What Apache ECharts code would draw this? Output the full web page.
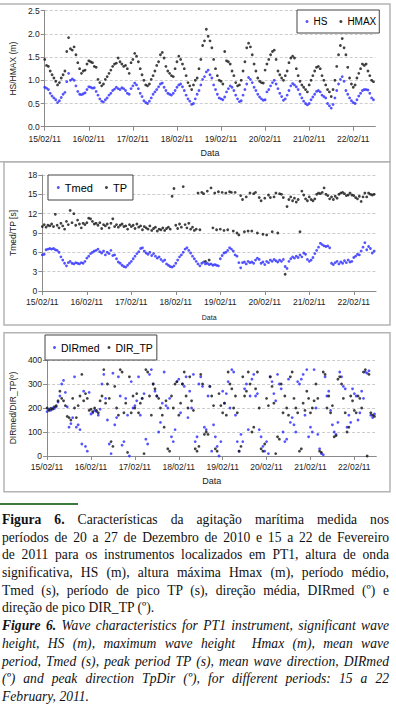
<!DOCTYPE html>
<html><head><meta charset="utf-8">
<script src="https://cdn.jsdelivr.net/npm/echarts@6/dist/echarts.min.js"></script>
<style>
html,body{margin:0;padding:0;background:#fff;}
#chart{position:absolute;left:0;top:0;width:396px;height:500px;}
#rule{position:absolute;left:0;top:503px;width:78px;height:1.5px;background:#3d7a3d;}
#cap{position:absolute;left:2px;top:511px;width:387px;font-family:"Liberation Serif","Times New Roman",serif;font-size:13.6px;color:#111;}
.l{height:17.7px;line-height:17.7px;white-space:nowrap;text-align:justify;text-align-last:justify;}
.e{text-align-last:left;}
.i{font-style:italic;}
</style></head><body>
<div id="chart"></div>
<div id="rule"></div>
<div id="cap">
<div class="l"><b>Figura 6.</b> Características da agitação marítima medida nos</div>
<div class="l">períodos de 20 a 27 de Dezembro de 2010 e 15 a 22 de Fevereiro</div>
<div class="l">de 2011 para os instrumentos localizados em PT1, altura de onda</div>
<div class="l">significativa, HS (m), altura máxima Hmax (m), período médio,</div>
<div class="l">Tmed (s), período de pico TP (s), direção média, DIRmed (º) e</div>
<div class="l e">direção de pico DIR_TP (º).</div>
<div class="l i"><b>Figure 6.</b> Wave characteristics for PT1 instrument, significant wave</div>
<div class="l i">height, HS (m), maximum wave height&nbsp; Hmax (m), mean wave</div>
<div class="l i">period, Tmed (s), peak period TP (s), mean wave direction, DIRmed</div>
<div class="l i">(º) and peak direction TpDir (º), for different periods: 15 a 22</div>
<div class="l i e">February, 2011.</div>
</div>
<script>
// ---- data (hourly samples starting 15/02/11 00:00) ----
const STEP_HOURS = 1;
const dateLabels = ['15/02/11','16/02/11','17/02/11','18/02/11','19/02/11','20/02/11','21/02/11','22/02/11'];
const dayTicks = [0,1,2,3,4,5,6,7];

const hsVals = [
0.85,0.83,0.80,0.72,0.66,0.62,0.58,0.52,0.56,0.63,0.70,0.74,0.97,1.15,1.00,1.03,1.00,0.88,0.76,0.70,0.69,0.71,0.73,0.80,
0.86,0.85,0.83,0.84,0.76,0.68,0.60,0.55,0.53,0.58,0.62,0.68,0.72,0.78,0.81,0.85,0.82,0.80,0.84,0.82,0.78,0.72,0.70,0.82,
0.88,0.94,0.90,0.82,0.72,0.65,0.56,0.52,0.50,0.55,0.62,0.70,0.75,0.80,0.86,0.92,0.94,0.85,0.78,0.72,0.70,0.68,0.72,0.78,
0.85,0.90,0.92,0.86,0.78,0.68,0.60,0.55,0.48,0.50,0.60,0.70,0.78,0.90,1.02,1.08,1.18,1.22,1.12,1.05,0.90,0.80,0.70,0.62,
0.60,0.58,0.64,0.75,0.82,0.88,0.85,0.78,0.68,0.60,0.54,0.56,0.68,0.80,0.92,1.06,1.02,0.95,0.85,0.78,0.70,0.64,0.60,0.57,
0.58,0.75,0.80,0.88,0.95,1.00,0.92,0.82,0.72,0.65,0.57,0.60,0.68,0.78,0.88,0.93,0.90,0.86,0.80,0.70,0.62,0.55,0.50,0.47,
0.50,0.58,0.64,0.70,0.76,0.78,0.75,0.68,0.65,0.62,0.50,0.45,0.40,0.48,0.62,0.78,0.92,1.02,1.08,0.98,0.78,0.70,0.62,0.56,
0.52,0.50,0.58,0.66,0.72,0.78,0.80,0.80,0.79,0.72,0.62,0.58];

const hmaxVals = [
1.45,1.32,1.30,1.20,1.12,1.05,0.98,0.90,0.95,1.05,1.12,1.20,1.62,1.92,1.68,1.65,1.72,1.55,1.38,1.25,1.15,1.20,1.22,1.35,
1.42,1.40,1.38,1.30,1.28,1.02,0.95,0.88,0.92,1.02,1.08,1.15,1.22,1.30,1.35,1.37,1.48,1.40,1.35,1.30,1.32,1.25,1.15,1.38,
1.45,1.58,1.52,1.40,1.25,1.12,1.00,0.90,0.88,0.92,1.02,1.10,1.20,1.32,1.40,1.55,1.60,1.48,1.30,1.20,1.15,1.10,1.08,1.25,
1.40,1.52,1.45,1.35,1.25,1.10,0.95,0.88,0.80,0.90,1.00,1.05,1.25,1.45,1.75,1.85,2.10,1.95,1.85,1.70,1.45,1.25,1.10,1.00,
0.98,0.92,1.62,1.42,1.40,1.35,1.20,1.10,0.95,0.88,0.90,1.00,1.20,1.40,1.70,1.80,1.72,1.55,1.35,1.20,1.05,0.98,0.95,0.94,
1.22,1.35,1.45,1.55,1.62,1.65,1.45,1.20,1.12,1.05,1.00,1.10,1.20,1.38,1.48,1.52,1.48,1.25,1.10,0.98,0.90,0.85,0.80,0.75,
0.90,1.00,1.10,1.20,1.28,1.30,1.25,1.10,1.00,0.90,0.80,0.75,0.65,0.80,1.00,1.30,1.55,1.75,1.90,1.70,1.55,1.28,1.05,0.92,
0.85,0.90,1.05,1.15,1.25,1.35,1.32,1.35,1.20,1.10,1.00,0.97];

const tmedVals = [
5.6,5.7,6.4,6.5,6.6,6.5,6.6,6.4,6.3,6.0,5.3,4.8,4.3,3.9,4.4,4.6,4.3,4.2,4.4,4.3,4.2,4.4,4.3,4.6,
5.1,5.4,5.8,6.0,6.2,6.3,6.5,6.1,5.9,6.2,5.6,6.0,5.8,6.3,5.5,5.6,5.0,4.5,4.3,4.0,3.8,3.7,4.0,4.3,
4.6,5.0,5.4,5.8,6.1,6.6,6.7,6.2,5.9,5.7,6.0,5.5,5.8,5.4,5.1,5.3,4.9,4.6,4.8,4.2,4.0,3.8,3.7,3.9,
4.3,4.8,5.3,5.6,6.0,6.5,6.7,6.3,5.9,5.4,5.0,4.6,4.2,3.9,4.3,4.5,4.2,4.3,4.1,4.2,4.0,4.1,4.0,3.9,
5.0,5.5,5.9,6.0,6.3,6.7,6.5,6.2,5.6,5.4,4.4,3.6,4.4,4.5,4.2,4.6,4.4,4.5,4.3,4.8,5.1,4.9,4.3,4.5,
4.1,4.6,4.4,4.8,4.6,4.9,4.7,4.5,4.8,4.6,4.9,3.8,3.5,4.6,5.0,5.3,5.1,5.4,5.2,5.6,5.3,5.9,5.7,4.9,
4.6,4.8,5.2,5.8,6.3,6.8,7.4,7.2,7.0,6.9,7.0,6.7,4.3,4.1,4.4,4.6,4.2,4.5,4.3,4.7,4.4,4.8,4.5,4.6,
5.2,5.4,5.7,5.6,6.2,6.8,7.5,6.4,6.9,6.6,5.9,6.2];

const tpVals = [
10.0,10.3,9.9,10.2,10.1,10.4,10.0,11.9,10.2,9.8,10.5,10.1,9.6,10.8,10.3,12.5,10.6,12.0,10.2,11.0,10.4,9.8,10.5,10.3,
10.6,11.3,11.2,10.8,10.4,10.5,10.2,10.6,9.7,10.3,10.1,10.4,9.8,10.5,11.2,10.0,10.3,9.9,10.2,10.4,10.0,10.1,9.6,10.3,
10.0,10.2,9.7,10.4,9.9,10.1,9.5,10.0,9.8,9.6,10.1,9.4,9.7,9.9,9.3,9.6,9.5,9.8,9.4,9.7,9.9,9.6,14.7,15.9,
10.2,9.7,10.4,9.9,16.2,10.3,9.8,10.5,9.6,9.9,9.4,9.6,15.2,9.5,15.3,15.1,4.6,15.5,4.8,16.0,9.8,15.2,9.5,15.4,
9.6,15.3,9.4,15.2,9.5,15.4,15.3,9.3,15.3,9.0,8.7,14.8,14.2,9.2,14.6,9.3,15.2,9.3,15.1,15.3,9.0,14.5,14.0,8.8,
14.4,8.7,14.9,14.5,9.2,14.6,15.2,9.0,15.1,15.0,14.5,2.6,13.1,14.2,14.6,14.0,14.4,13.8,14.2,9.2,15.5,14.9,14.3,14.0,
14.6,14.2,14.0,14.3,15.0,15.2,15.1,15.3,16.0,15.0,14.8,14.3,14.6,14.2,14.7,14.4,15.0,15.2,15.3,15.1,14.8,14.9,15.2,14.9,
14.8,14.5,14.3,14.7,13.9,14.6,15.2,14.6,15.2,15.0,14.9,15.0];

const dirMedVals = [
185,195,190,200,198,205,225,250,300,315,265,205,120,135,160,330,120,130,110,50,270,40,20,265,
175,180,190,185,170,195,300,340,240,150,50,10,345,130,160,330,250,45,60,240,170,0,310,200,
210,230,330,170,240,260,70,50,340,360,300,270,250,100,140,220,350,210,200,240,80,60,110,310,
320,180,300,290,330,160,270,200,340,60,80,300,330,290,120,110,250,290,20,130,80,40,0,60,
270,220,260,310,200,360,350,170,60,20,90,60,280,300,110,250,320,340,250,260,110,80,40,20,
60,10,330,310,260,230,340,300,280,100,60,70,320,140,160,130,100,310,300,320,340,170,360,80,
120,100,360,200,90,30,10,5,330,250,270,190,130,100,90,140,350,330,290,280,120,170,140,280,
260,250,150,180,270,240,350,345,355,170,160,175];

const dirTpVals = [
200,190,198,195,205,210,230,270,240,230,210,165,160,150,240,200,160,210,250,340,230,260,240,190,
195,185,200,190,180,230,250,360,220,300,240,60,40,290,200,170,360,350,180,220,15,330,180,250,
200,260,180,220,240,10,360,350,250,170,300,280,250,240,200,170,120,230,30,20,250,200,300,310,
170,220,300,350,250,200,330,230,190,30,20,40,340,300,90,100,90,290,250,210,30,20,260,210,
180,220,170,350,300,280,200,250,180,20,40,330,250,270,350,300,100,120,280,350,200,30,20,50,
240,210,330,290,220,10,80,70,300,180,250,200,170,330,350,240,200,180,20,30,220,190,270,240,
180,200,230,300,240,20,15,350,340,200,250,180,210,80,85,320,330,300,240,180,100,120,250,230,
190,180,250,240,200,350,360,0,340,180,170,165];

// ---- chart ----
function pts(arr){ return arr.map((v,i)=>[i*STEP_HOURS/24, v]); }
const FONT = '"Liberation Sans", Arial, sans-serif';
const AX = '#8a8a8a';
const BLUE = '#2a2aff';
const BLACK = '#111111';

function xAx(i, margin, nameGap, nameSize){
  return {
    type:'value', gridIndex:i, min:0, max:7.5,
    axisLine:{show:true, onZero:false, lineStyle:{color:AX, width:1}},
    axisTick:{show:true, customValues:dayTicks, length:4, lineStyle:{color:AX}},
    axisLabel:{customValues:dayTicks, formatter:v=>dateLabels[Math.round(v)], fontSize:8.5, color:'#222', margin:margin, fontFamily:FONT},
    splitLine:{show:false},
    name:'Data', nameLocation:'middle', nameGap:nameGap,
    nameTextStyle:{fontSize:nameSize, color:'#222', fontFamily:FONT}
  };
}
function yAx(i, max, interval, fmt, name, nameGap, nameSize){
  return {
    type:'value', gridIndex:i, min:0, max:max, interval:interval,
    axisLine:{show:true, lineStyle:{color:AX, width:1}},
    axisTick:{show:true, length:4, lineStyle:{color:AX}},
    axisLabel:{formatter:fmt, fontSize:8.5, color:'#222', margin:5, fontFamily:FONT},
    splitLine:{show:true, lineStyle:{color:'#cccccc', type:[3,2], width:1}},
    name:name, nameLocation:'middle', nameGap:nameGap, nameRotate:90,
    nameTextStyle:{fontSize:nameSize, color:'#222', fontFamily:FONT}
  };
}
function sc(name, vals, idx, color){
  return {name:name, type:'scatter', xAxisIndex:idx, yAxisIndex:idx, data:pts(vals),
    symbol:'circle', symbolSize:2.8, itemStyle:{color:color}, silent:true};
}
function leg(names, left, top, pad, gap, fs){
  return {data:names, left:left, top:top, orient:'horizontal', padding:pad, itemGap:gap,
    itemWidth:3, itemHeight:3, icon:'circle', borderColor:'#444', borderWidth:1,
    backgroundColor:'#fff', selectedMode:false,
    textStyle:{fontSize:fs, color:'#000', fontFamily:FONT}};
}

const chart = echarts.init(document.getElementById('chart'), null, {renderer:'svg'});
chart.setOption({
  animation:false,
  backgroundColor:'#fff',
  grid:[
    {left:41, top:10.7, width:334.3, height:116},
    {left:41.5, top:175, width:334.5, height:116},
    {left:42.7, top:360, width:333.6, height:96}
  ],
  xAxis:[ xAx(0, 8, 22, 9), xAx(1, 6, 23, 7), xAx(2, 6, 20, 9) ],
  yAxis:[
    yAx(0, 2.5, 0.5, v=>v.toFixed(1), 'HS/HMAX (m)', 22, 8.5),
    yAx(1, 18, 3, v=>String(v), 'Tmed/TP [s]', 22, 8.5),
    yAx(2, 400, 100, v=>String(v), 'DIRmed/DIR_TP(º)', 25, 8.5)
  ],
  legend:[
    leg(['HS','HMAX'], 297, 10, [6.5,3,6.5,8.5], 12, 10),
    leg(['Tmed','TP'], 48, 175, [7,6,7,8.8], 12, 11),
    leg(['DIRmed','DIR_TP'], 45, 335, [7,4,7,8], 8, 10.5)
  ],
  graphic:[
    {type:'rect', silent:true, shape:{x:-2, y:4, width:392, height:157.7}, style:{fill:'none', stroke:'#b4b4b4', lineWidth:1.5}},
    {type:'rect', silent:true, shape:{x:4, y:161.7, width:386, height:163.3}, style:{fill:'none', stroke:'#b4b4b4', lineWidth:1.5}},
    {type:'rect', silent:true, shape:{x:4, y:332.7, width:386, height:159}, style:{fill:'none', stroke:'#b4b4b4', lineWidth:1.5}}
  ],
  series:[
    sc('HS', hsVals, 0, BLUE),
    sc('HMAX', hmaxVals, 0, BLACK),
    sc('Tmed', tmedVals, 1, BLUE),
    sc('TP', tpVals, 1, BLACK),
    sc('DIRmed', dirMedVals, 2, BLUE),
    sc('DIR_TP', dirTpVals, 2, BLACK)
  ]
});
</script>
</body></html>
